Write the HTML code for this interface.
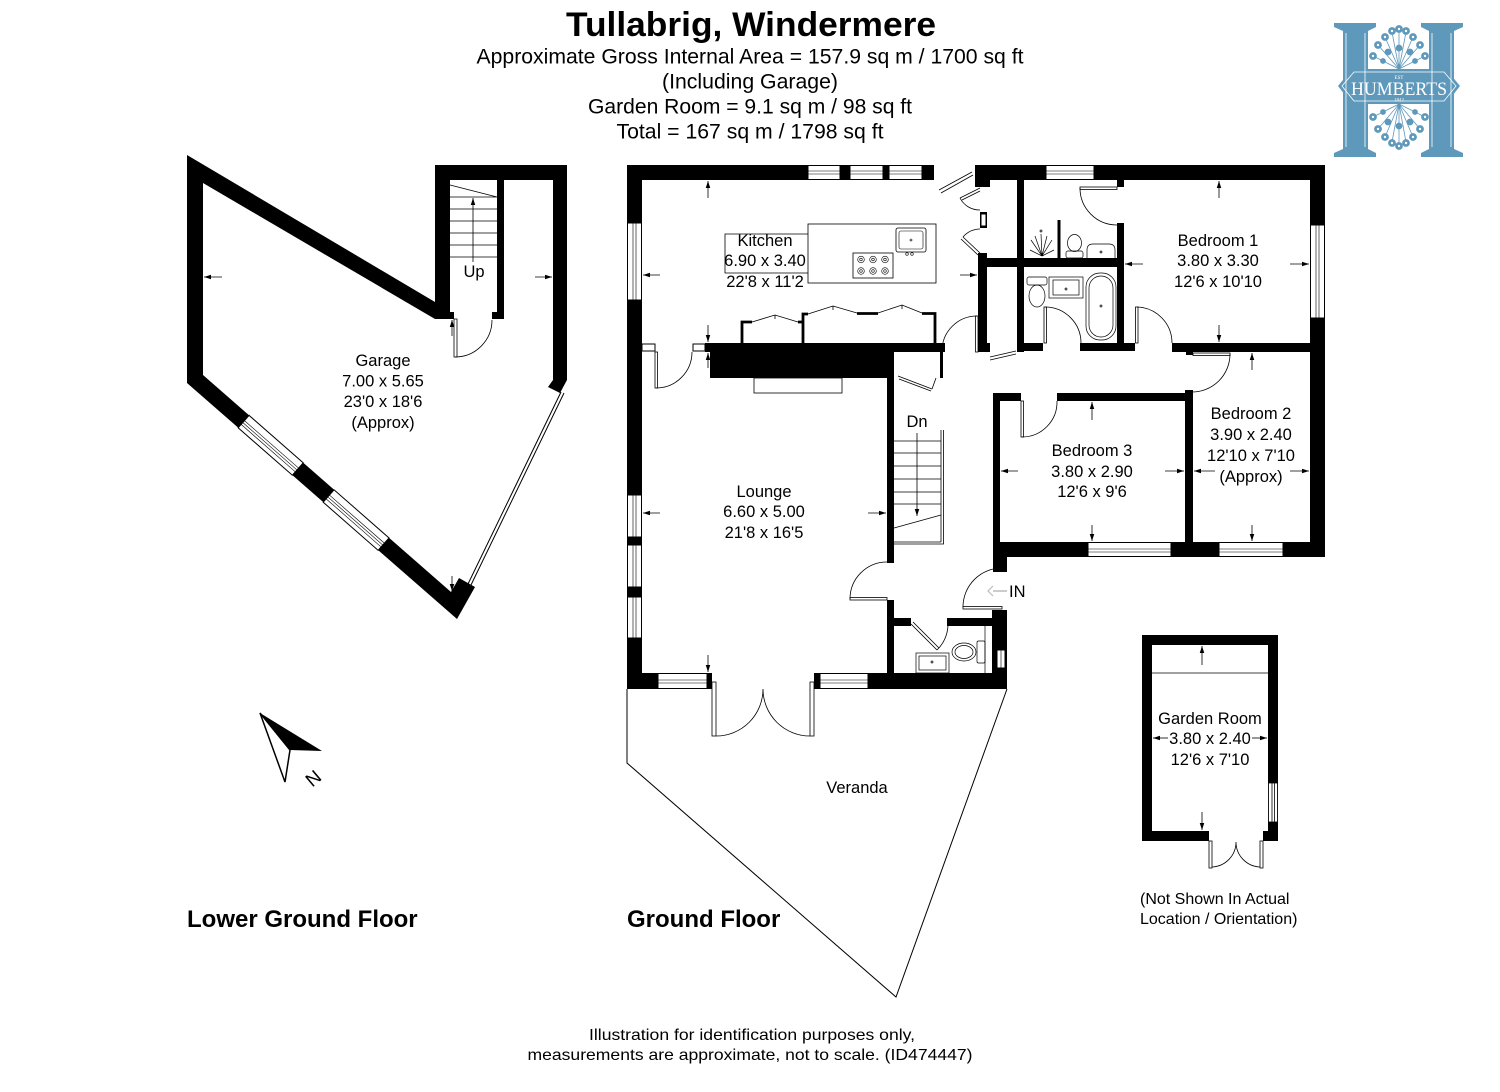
<!DOCTYPE html>
<html><head><meta charset="utf-8"><style>
html,body{margin:0;padding:0;background:#fff;}
svg{display:block}
text{font-family:"Liberation Sans",Arial,sans-serif;fill:#000}
</style></head><body>
<svg width="1500" height="1092" viewBox="0 0 1500 1092" xmlns="http://www.w3.org/2000/svg">
<defs>
<marker id="a" viewBox="0 0 14 10" refX="14" refY="5" markerWidth="7" markerHeight="5" markerUnits="userSpaceOnUse" orient="auto"><path d="M0,0.5 L14,5 L0,9.5 z" fill="#000"/></marker>
</defs>
<rect width="1500" height="1092" fill="#fff"/>

<!-- TITLE -->
<text x="751" y="36" font-size="34" font-weight="bold" text-anchor="middle" textLength="370" lengthAdjust="spacingAndGlyphs">Tullabrig, Windermere</text>
<g font-size="21" text-anchor="middle">
<text x="750" y="63.5" textLength="547" lengthAdjust="spacingAndGlyphs">Approximate Gross Internal Area = 157.9 sq m / 1700 sq ft</text>
<text x="750" y="88.5" textLength="176" lengthAdjust="spacingAndGlyphs">(Including Garage)</text>
<text x="750" y="113.5" textLength="324" lengthAdjust="spacingAndGlyphs">Garden Room = 9.1 sq m / 98 sq ft</text>
<text x="750" y="138.5" textLength="267" lengthAdjust="spacingAndGlyphs">Total = 167 sq m / 1798 sq ft</text>
</g>

<!-- LOGO -->
<g fill="#5e98bb">
<path d="M1334,23 H1376 V27 L1368,31 V149 L1376,153 V157 H1334 V153 L1343,149 V31 L1334,27 Z"/>
<path d="M1421,23 H1463 V27 L1454,31 V149 L1463,153 V157 H1421 V153 L1429,149 V31 L1421,27 Z"/>
<path d="M1338,86 L1352,69 H1446 L1460,86 L1446,104 H1352 Z"/>
</g>
<g fill="none" stroke="#fff" stroke-width="0.8">
<path d="M1346,33 V147 M1365,33 V147 M1432,33 V147 M1451,33 V147"/>
<path d="M1342,86 L1354,72 H1444 L1456,86 L1444,101 H1354 Z"/>
</g>
<text x="1399" y="95" text-anchor="middle" textLength="96" lengthAdjust="spacingAndGlyphs" style="font-family:'Liberation Serif',serif;font-size:19px;fill:#fff">HUMBERTS</text>
<text x="1399" y="79" text-anchor="middle" style="font-family:'Liberation Serif',serif;font-size:5px;fill:#fff">EST</text>
<text x="1399" y="101.5" text-anchor="middle" style="font-family:'Liberation Serif',serif;font-size:5px;fill:#fff">1842</text>
<g stroke="#5e98bb" stroke-width="0.8" fill="#5e98bb">
<path d="M1399,69 L1385,37 M1399,69 L1392,32 M1399,69 L1399,30 M1399,69 L1406,32 M1399,69 L1413,37 M1399,69 L1378,45 M1399,69 L1420,45 M1399,69 L1373,56 M1399,69 L1425,56 M1399,104 L1385,137 M1399,104 L1392,142 M1399,104 L1399,145 M1399,104 L1406,142 M1399,104 L1413,137 M1399,104 L1378,129 M1399,104 L1420,129 M1399,104 L1373,117 M1399,104 L1425,117"/>
<circle cx="1385" cy="37" r="3.5"/><circle cx="1392" cy="31" r="3.5"/><circle cx="1399" cy="29" r="3.5"/><circle cx="1406" cy="31" r="3.5"/><circle cx="1413" cy="37" r="3.5"/><circle cx="1378" cy="45" r="3.5"/><circle cx="1420" cy="45" r="3.5"/><circle cx="1373" cy="56" r="3.5"/><circle cx="1425" cy="56" r="3.5"/>
<circle cx="1388" cy="52" r="3"/><circle cx="1399" cy="48" r="3"/><circle cx="1410" cy="52" r="3"/><circle cx="1383" cy="61" r="2.5"/><circle cx="1415" cy="61" r="2.5"/>
<circle cx="1385" cy="137" r="3.5"/><circle cx="1392" cy="143" r="3.5"/><circle cx="1399" cy="146" r="3.5"/><circle cx="1406" cy="143" r="3.5"/><circle cx="1413" cy="137" r="3.5"/><circle cx="1378" cy="129" r="3.5"/><circle cx="1420" cy="129" r="3.5"/><circle cx="1373" cy="117" r="3.5"/><circle cx="1425" cy="117" r="3.5"/>
<circle cx="1388" cy="122" r="3"/><circle cx="1399" cy="126" r="3"/><circle cx="1410" cy="122" r="3"/><circle cx="1383" cy="112" r="2.5"/><circle cx="1415" cy="112" r="2.5"/>
</g>
<g fill="#fff">
<circle cx="1385" cy="37" r="1.2"/><circle cx="1392" cy="31" r="1.2"/><circle cx="1399" cy="29" r="1.2"/><circle cx="1406" cy="31" r="1.2"/><circle cx="1413" cy="37" r="1.2"/><circle cx="1378" cy="45" r="1.2"/><circle cx="1420" cy="45" r="1.2"/><circle cx="1373" cy="56" r="1.2"/><circle cx="1425" cy="56" r="1.2"/>
<circle cx="1385" cy="137" r="1.2"/><circle cx="1392" cy="143" r="1.2"/><circle cx="1399" cy="146" r="1.2"/><circle cx="1406" cy="143" r="1.2"/><circle cx="1413" cy="137" r="1.2"/><circle cx="1378" cy="129" r="1.2"/><circle cx="1420" cy="129" r="1.2"/><circle cx="1373" cy="117" r="1.2"/><circle cx="1425" cy="117" r="1.2"/>
</g>

<!-- ================= LOWER GROUND FLOOR (GARAGE) ================= -->
<path fill="#000" d="M187,155 L435,302 L435,165 L567,165 L567,380 L560,393 L548,387 L553,380 L553,180 L504,180 L504,319 L492,319 L492,312 L497,312 L497,180 L450,180 L450,312 L454,312 L454,319 L435,319 L203,183 L203,375 L451,592 L459,578 L475,587 L457,619 L187,383 Z"/>
<g transform="translate(187,383) rotate(41.2)">
<rect x="68" y="-16.5" width="72" height="16.5" fill="#fff" stroke="#000" stroke-width="1"/>
<path d="M68,-9.5 H140 M68,-7 H140 M68,-4.5 H140" stroke="#000" stroke-width="0.6"/>
<rect x="181" y="-16.5" width="73" height="16.5" fill="#fff" stroke="#000" stroke-width="1"/>
<path d="M181,-9.5 H254 M181,-7 H254 M181,-4.5 H254" stroke="#000" stroke-width="0.6"/>
</g>
<path d="M561,392 L468,584 M564,393 L471,585" stroke="#000" stroke-width="1" fill="none"/>
<g stroke="#000" stroke-width="0.8" fill="none">
<path d="M450,185 L497,197 M450,197 H497 M450,209 H497 M450,221 H497 M450,233 H497 M450,245 H497 M450,257 H497"/>
<rect x="454" y="319" width="3" height="38" fill="#fff"/>
<path d="M455,357 A37,37 0 0 0 492,320"/>
</g>
<line x1="473" y1="262" x2="473" y2="198" stroke="#000" stroke-width="0.8" marker-end="url(#a)"/>
<g stroke="#000" stroke-width="0.8" marker-end="url(#a)">
<line x1="222" y1="277" x2="204" y2="277"/>
<line x1="535" y1="277" x2="552" y2="277"/>
<line x1="452" y1="336" x2="452" y2="320"/>
<line x1="452" y1="576" x2="452" y2="591"/>
</g>
<g font-size="16.5" text-anchor="middle">
<text x="474" y="277">Up</text>
<text x="383" y="366">Garage</text>
<text x="383" y="386.5">7.00 x 5.65</text>
<text x="383" y="407">23'0 x 18'6</text>
<text x="383" y="428">(Approx)</text>
</g>

<!-- compass -->
<polygon points="260,713 290,750 285,782" fill="#fff" stroke="#000" stroke-width="1.5"/>
<polygon points="260,713 322,751 290,750" fill="#000"/>
<text x="313" y="785" font-size="19" text-anchor="middle" transform="rotate(-40 313 778)">N</text>

<text x="187" y="927" font-size="24" font-weight="bold">Lower Ground Floor</text>
<text x="627" y="927" font-size="24" font-weight="bold">Ground Floor</text>

<!-- ================= GROUND FLOOR ================= -->
<g fill="#000">
<rect x="627" y="165" width="181" height="15"/>
<rect x="840" y="165" width="10" height="15"/>
<rect x="883" y="165" width="6" height="15"/>
<rect x="922" y="165" width="12" height="15"/>
<rect x="975" y="165" width="350" height="15"/>
<rect x="975" y="165" width="15" height="22"/>
<rect x="980" y="212" width="7" height="16"/>
<rect x="978" y="253" width="9" height="99"/>
<rect x="977" y="343" width="13" height="9"/>
<rect x="980" y="258" width="144" height="9"/>
<rect x="1017" y="180" width="7" height="172"/>
<rect x="1117" y="180" width="7" height="7"/>
<rect x="1117" y="223" width="7" height="128"/>
<rect x="1017" y="343" width="26" height="8"/>
<rect x="1080" y="343" width="55" height="8"/>
<rect x="1172" y="343" width="153" height="9"/>
<rect x="1186" y="350" width="7" height="5"/>
<rect x="1310" y="165" width="15" height="392"/>
<rect x="993" y="393" width="28" height="8"/>
<rect x="1057" y="393" width="136" height="8"/>
<rect x="1185" y="390" width="8" height="160"/>
<rect x="993" y="393" width="7" height="170"/>
<rect x="993" y="557" width="14" height="15"/>
<rect x="993" y="542" width="332" height="15"/>
<rect x="627" y="165" width="15" height="524"/>
<rect x="705" y="343" width="240" height="9"/>
<rect x="710" y="352" width="184" height="26"/>
<rect x="887" y="378" width="7" height="185"/>
<rect x="887" y="600" width="7" height="75"/>
<rect x="627" y="673" width="31" height="16"/>
<rect x="707" y="673" width="5" height="16"/>
<rect x="814" y="673" width="6" height="16"/>
<rect x="868" y="673" width="139" height="16"/>
<rect x="887" y="618" width="24" height="8"/>
<rect x="947" y="618" width="53" height="8"/>
<rect x="992" y="610" width="15" height="67"/>
<rect x="940" y="350" width="3" height="28"/>
</g>

<g fill="#fff" stroke="#000" stroke-width="1">
<rect x="808" y="165.5" width="32" height="14"/><rect x="850" y="165.5" width="33" height="14"/><rect x="889" y="165.5" width="33" height="14"/>
<rect x="1046" y="165.5" width="48" height="14"/>
<rect x="627.5" y="223" width="14" height="77"/>
<rect x="627.5" y="495" width="14" height="42"/><rect x="627.5" y="545" width="14" height="42"/><rect x="627.5" y="597" width="14" height="41"/>
<rect x="658" y="673.5" width="49" height="15"/><rect x="820" y="673.5" width="48" height="15"/>
<rect x="1310.5" y="225" width="14" height="93"/>
<rect x="1088" y="542.5" width="83" height="14"/><rect x="1219" y="542.5" width="64" height="14"/>
<rect x="997" y="650" width="8" height="18"/>
<rect x="981" y="214" width="5" height="12"/>
<rect x="642" y="344" width="13" height="7"/><rect x="693" y="344" width="12" height="7"/>
</g>
<g stroke="#000" stroke-width="0.6" fill="none">
<path d="M808,171 H840 M808,174 H840 M850,171 H883 M850,174 H883 M889,171 H922 M889,174 H922 M1046,171 H1094 M1046,174 H1094"/>
<path d="M633,223 V300 M636,223 V300 M633,495 V537 M636,495 V537 M633,545 V587 M636,545 V587 M633,597 V638 M636,597 V638"/>
<path d="M658,680 H707 M658,683 H707 M820,680 H868 M820,683 H868"/>
<path d="M1316,225 V318 M1319,225 V318"/>
<path d="M1088,549 H1171 M1088,552 H1171 M1219,549 H1283 M1219,552 H1283"/>
<path d="M1001,650 V668"/>
</g>

<g stroke="#000" fill="none">
<path d="M742,343 V322 H752 M798,322 H803 M803,343 V314 H808 M857,313.5 H878 M922,313.5 H935 V343" stroke-width="2.8"/>
<path d="M752,322 L775,315 L798,322 M775,315 V319 M808,314 L833,306 L857,313 M833,306 V310 M878,313 L902,305 L922,313 M902,305 V309" stroke-width="0.8"/>
<rect x="808" y="224" width="128" height="59" stroke-width="0.8"/>
<path d="M808,234 H725 V273 H808" stroke-width="0.8"/>
<rect x="896" y="228" width="30" height="24" rx="2" stroke-width="0.8"/>
<rect x="899" y="231" width="24" height="18" rx="2" stroke-width="0.6"/>
<circle cx="911" cy="240" r="1" stroke-width="0.6"/>
<circle cx="907" cy="254" r="1.3" stroke-width="0.6"/><circle cx="912" cy="254" r="1.3" stroke-width="0.6"/>
<rect x="853" y="253" width="40" height="25" stroke-width="0.8"/>
<g stroke-width="0.6">
<circle cx="861" cy="259.5" r="3.3"/><circle cx="873" cy="259.5" r="3.3"/><circle cx="885" cy="259.5" r="3.3"/>
<circle cx="861" cy="271" r="3.3"/><circle cx="873" cy="271" r="3.3"/><circle cx="885" cy="271" r="3.3"/>
<circle cx="861" cy="259.5" r="1.3"/><circle cx="873" cy="259.5" r="1.3"/><circle cx="885" cy="259.5" r="1.3"/>
<circle cx="861" cy="271" r="1.3"/><circle cx="873" cy="271" r="1.3"/><circle cx="885" cy="271" r="1.3"/>
</g>
<rect x="754" y="378" width="88" height="15" stroke-width="0.8"/>
</g>

<g stroke="#000" stroke-width="0.8" fill="none">
<path d="M939,190 L972,172 M941,193 L973,175"/>
<path d="M980,188 L960,198 M980,191 L962,200"/>
<path d="M960,198 A22,22 0 0 0 980,210"/>
<path d="M980,253 L963,237 M978,255 L961,239"/>
<path d="M963,237 A23,23 0 0 1 980,229"/>
<rect x="975.5" y="316" width="2.5" height="36" fill="#fff"/>
<path d="M977,316 A35,35 0 0 0 942,351"/>
<rect x="655" y="352" width="2.5" height="36" fill="#fff"/>
<path d="M656,388 A36,36 0 0 0 692,352"/>
<path d="M898,376 L932,389 M899,379 L931,391 M932,389 L936,378"/>
<path d="M990,357 L1016,351 M990,360 L1016,354"/>
<rect x="1080" y="187" width="37" height="2.5" fill="#fff"/>
<path d="M1080,188 A37,37 0 0 0 1117,225"/>
<rect x="1044" y="307" width="2.5" height="36" fill="#fff"/>
<path d="M1045,307 A36,36 0 0 1 1081,343"/>
<rect x="1135.5" y="307" width="2.5" height="36" fill="#fff"/>
<path d="M1137,307 A36,36 0 0 1 1172,343"/>
<rect x="1193" y="353" width="37" height="2.5" fill="#fff"/>
<path d="M1230,354 A38,38 0 0 1 1191,392"/>
<rect x="1021" y="401" width="2.5" height="36" fill="#fff"/>
<path d="M1022,437 A35,35 0 0 0 1057,401"/>
<rect x="850" y="597.5" width="37" height="2.5" fill="#fff"/>
<path d="M850,599 A37,37 0 0 1 887,562"/>
<rect x="963" y="606.5" width="39" height="2.5" fill="#fff"/>
<path d="M963,607 A39,39 0 0 1 1002,568"/>
<path d="M911,624 L937,650 M913,622 L939,648"/>
<path d="M937,650 A37,37 0 0 0 948,624"/>
<rect x="712" y="682" width="4" height="54" fill="#fff"/>
<rect x="810" y="682" width="4" height="54" fill="#fff"/>
<path d="M716,736 A47,47 0 0 0 763,689 M810,736 A47,47 0 0 1 763,689"/>
</g>

<g stroke="#000" stroke-width="0.8" fill="none">
<path d="M941,430 V542 M943.5,430 V544 H894 M894,542 H941"/>
<path d="M894,441 H941 M894,453 H941 M894,466 H941 M894,479 H941 M894,492 H941 M894,504 H941 M894,528 L941,515"/>
</g>
<line x1="917" y1="433" x2="917" y2="516" stroke="#000" stroke-width="0.8" marker-end="url(#a)"/>

<g stroke="#000" stroke-width="0.7" fill="none">
<path d="M1059,220 V260" stroke-width="3"/>
<path d="M1042,256 L1031,240 M1042,256 L1035,236 M1042,256 L1041,234 M1042,256 L1047,236 M1042,256 L1052,240 M1042,256 L1030,250 M1042,256 L1054,250"/>
<circle cx="1041" cy="231" r="1"/>
<ellipse cx="1074.5" cy="243" rx="7" ry="8.5"/>
<rect x="1066" y="251" width="17" height="7" rx="2"/>
<path d="M1087,259 V250 Q1087,244 1093,244 H1109 Q1115,244 1115,250 V259"/>
<circle cx="1101" cy="252" r="1"/>
<rect x="1027" y="277" width="20" height="8" rx="2"/>
<ellipse cx="1037" cy="296" rx="8" ry="11"/>
<rect x="1049" y="277" width="34" height="21"/>
<rect x="1053" y="280" width="26" height="15"/>
<circle cx="1066" cy="289" r="1"/>
<rect x="1086" y="273" width="30" height="67" rx="14"/>
<rect x="1089" y="276" width="24" height="61" rx="12"/>
<circle cx="1101" cy="306" r="1"/>
<path d="M985,626 V673"/>
<rect x="916" y="653" width="33" height="20"/>
<rect x="919" y="656" width="27" height="14"/>
<circle cx="932" cy="662" r="1"/>
<ellipse cx="964" cy="652" rx="12" ry="9"/>
<ellipse cx="964" cy="652" rx="9" ry="6.5"/>
<rect x="977" y="641" width="8" height="22" rx="1.5"/>
</g>

<path d="M627,689 V763 L896,997 L1007,689" fill="none" stroke="#000" stroke-width="1"/>

<g stroke="#000" stroke-width="0.8" marker-end="url(#a)">
<line x1="708" y1="198" x2="708" y2="181"/>
<line x1="660" y1="275" x2="643" y2="275"/>
<line x1="960" y1="275" x2="977" y2="275"/>
<line x1="708" y1="325" x2="708" y2="342"/>
<line x1="708" y1="368" x2="708" y2="353"/>
<line x1="660" y1="513" x2="643" y2="513"/>
<line x1="868" y1="513" x2="886" y2="513"/>
<line x1="708" y1="655" x2="708" y2="672"/>
<line x1="1219" y1="198" x2="1219" y2="181"/>
<line x1="1143" y1="264" x2="1125" y2="264"/>
<line x1="1290" y1="264" x2="1309" y2="264"/>
<line x1="1219" y1="325" x2="1219" y2="342"/>
<line x1="1252" y1="370" x2="1252" y2="353"/>
<line x1="1215" y1="471" x2="1194" y2="471"/>
<line x1="1290" y1="471" x2="1309" y2="471"/>
<line x1="1252" y1="525" x2="1252" y2="541"/>
<line x1="1092" y1="420" x2="1092" y2="402"/>
<line x1="1018" y1="471" x2="1001" y2="471"/>
<line x1="1165" y1="471" x2="1184" y2="471"/>
<line x1="1092" y1="525" x2="1092" y2="541"/>
<line x1="1202" y1="665" x2="1202" y2="646"/>
<line x1="1168" y1="738" x2="1153" y2="738"/>
<line x1="1252" y1="738" x2="1267" y2="738"/>
<line x1="1202" y1="812" x2="1202" y2="830"/>
</g>
<line x1="1007" y1="591" x2="993" y2="591" stroke="#bbb" stroke-width="1.5"/>
<path d="M993,586 L988,591 L993,596" fill="none" stroke="#bbb" stroke-width="1.2"/>

<g font-size="16.5" text-anchor="middle">
<text x="765" y="246">Kitchen</text>
<text x="765" y="266">6.90 x 3.40</text>
<text x="765" y="287">22'8 x 11'2</text>
<text x="764" y="497">Lounge</text>
<text x="764" y="517">6.60 x 5.00</text>
<text x="764" y="538">21'8 x 16'5</text>
<text x="1218" y="246">Bedroom 1</text>
<text x="1218" y="266">3.80 x 3.30</text>
<text x="1218" y="287">12'6 x 10'10</text>
<text x="1251" y="419">Bedroom 2</text>
<text x="1251" y="440">3.90 x 2.40</text>
<text x="1251" y="461">12'10 x 7'10</text>
<text x="1251" y="482">(Approx)</text>
<text x="1092" y="456">Bedroom 3</text>
<text x="1092" y="477">3.80 x 2.90</text>
<text x="1092" y="497">12'6 x 9'6</text>
<text x="857" y="793">Veranda</text>
<text x="917" y="427">Dn</text>
<text x="1210" y="724">Garden Room</text>
<text x="1210" y="744">3.80 x 2.40</text>
<text x="1210" y="765">12'6 x 7'10</text>
</g>
<text x="1009" y="597" font-size="16.5">IN</text>

<!-- GARDEN ROOM -->
<g fill="#000">
<rect x="1142" y="635" width="136" height="10"/>
<rect x="1142" y="635" width="10" height="206"/>
<rect x="1268" y="635" width="10" height="206"/>
<rect x="1142" y="831" width="67" height="10"/>
<rect x="1263" y="831" width="15" height="10"/>
</g>
<g stroke="#000" stroke-width="0.8" fill="none">
<rect x="1268.5" y="783" width="9" height="39" fill="#fff"/>
<path d="M1272,783 V822 M1274.5,783 V822"/>
<path d="M1152,673 H1268"/>
<rect x="1209" y="841" width="3" height="27" fill="#fff"/>
<rect x="1260" y="841" width="3" height="27" fill="#fff"/>
<path d="M1212,867 A25,25 0 0 0 1236,842 M1260,867 A25,25 0 0 1 1236,842"/>
</g>
<g font-size="16">
<text x="1140" y="904">(Not Shown In Actual</text>
<text x="1140" y="924">Location / Orientation)</text>
</g>

<g font-size="16" text-anchor="middle">
<text x="752" y="1040" textLength="326" lengthAdjust="spacingAndGlyphs">Illustration for identification purposes only,</text>
<text x="750" y="1060" textLength="445" lengthAdjust="spacingAndGlyphs">measurements are approximate, not to scale. (ID474447)</text>
</g>
</svg>
</body></html>
